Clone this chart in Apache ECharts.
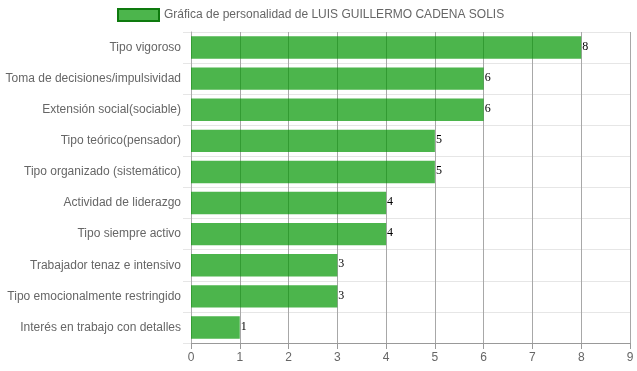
<!DOCTYPE html>
<html><head><meta charset="utf-8">
<script src="https://cdn.jsdelivr.net/npm/echarts@6/dist/echarts.min.js"></script>
<style>html,body{margin:0;padding:0;background:#fff}#c{width:637px;height:371px}</style>
</head><body><div id="c"></div>
<script>
const seriesName = 'Gráfica de personalidad de LUIS GUILLERMO CADENA SOLIS';
const categories = ['Tipo vigoroso','Toma de decisiones/impulsividad','Extensión social(sociable)','Tipo teórico(pensador)','Tipo organizado (sistemático)','Actividad de liderazgo','Tipo siempre activo','Trabajador tenaz e intensivo','Tipo emocionalmente restringido','Interés en trabajo con detalles'];
const values = [8,6,6,5,5,4,4,3,3,1];
const xTicks = [0,9,1];

const chart = echarts.init(document.getElementById('c'));
chart.setOption({
  animation: false,
  legend: {
    left: 112, top: 3,
    itemWidth: 41, itemHeight: 12, itemGap: 10,
    textStyle: {color: '#666', fontSize: 12, fontFamily: 'Liberation Sans, Arial, sans-serif'},
    itemStyle: {borderColor: '#0e7a0e', borderWidth: 2},
    data: [{name: seriesName, icon: 'rect'}]
  },
  grid: {left: 191, right: 7, top: 32, bottom: 28},
  xAxis: {
    type: 'value', min: xTicks[0], max: xTicks[1], interval: xTicks[2],
    axisLine: {show: true, lineStyle: {color: '#999'}},
    axisTick: {show: true, length: 6, lineStyle: {color: '#999'}},
    axisLabel: {color: '#666', fontSize: 12, fontFamily: 'Liberation Sans, Arial, sans-serif', margin: 9},
    splitLine: {show: true, lineStyle: {color: '#a8a8a8'}}
  },
  yAxis: {
    type: 'category', inverse: true, data: categories,
    axisLine: {show: true, lineStyle: {color: '#aaa'}},
    axisTick: {show: true, length: 8, lineStyle: {color: '#e6e6e6'}},
    axisLabel: {color: '#666', fontSize: 12, fontFamily: 'Liberation Sans, Arial, sans-serif', margin: 10},
    splitLine: {show: true, lineStyle: {color: '#e6e6e6'}}
  },
  series: [{
    name: seriesName, type: 'bar', data: values,
    barWidth: '72%',
    itemStyle: {color: 'rgba(0,150,0,0.7)'},
    label: {show: true, position: 'right', distance: 1, offset: [0, -1], color: '#000', fontSize: 12, fontFamily: 'Liberation Serif, Times New Roman, serif'}
  }]
});
</script></body></html>
